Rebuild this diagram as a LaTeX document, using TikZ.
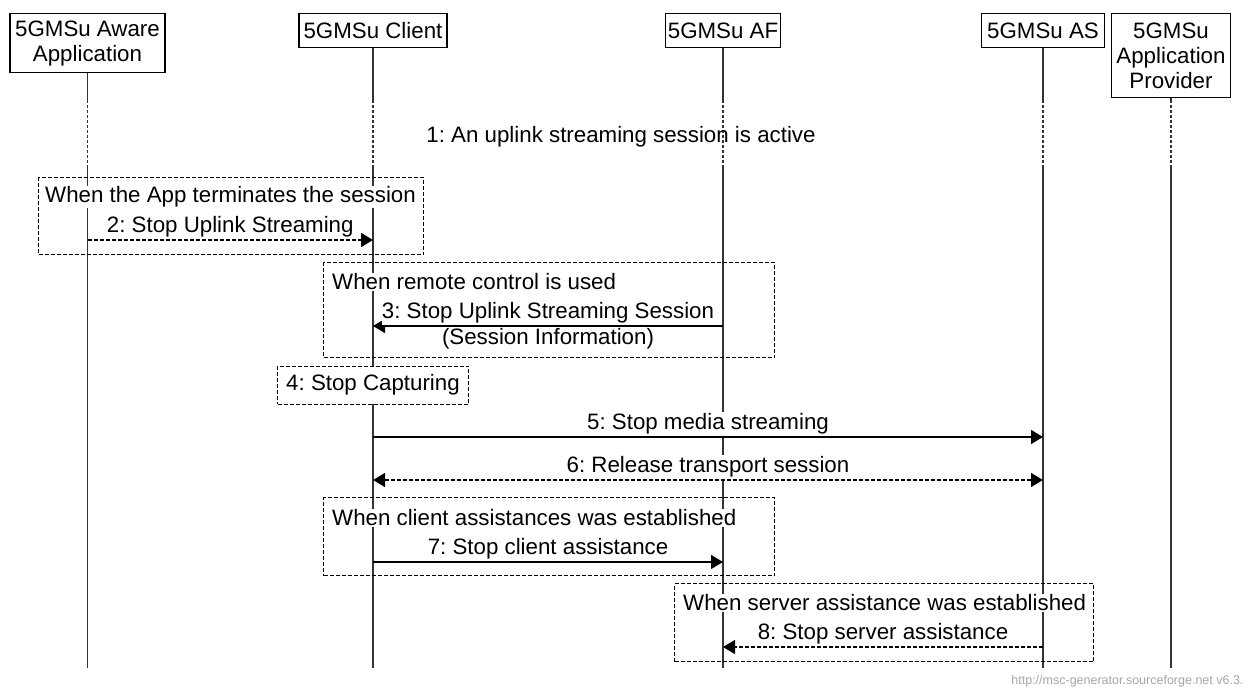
\documentclass[tikz,border=0pt]{standalone}
\usepackage{fontspec}
\setmainfont{Liberation Sans}
\usetikzlibrary{positioning, arrows.meta, calc}
\frenchspacing

\begin{document}
\begin{tikzpicture}[x=1pt, y=-1pt,
    font=\fontsize{22.3}{25}\selectfont,
    entity/.style={draw, rectangle, line width=1.2pt, align=center, anchor=north, inner sep=0pt, minimum height=34pt},
    life/.style={line width=1.2pt, black!80},
    gap/.style={life, dash pattern=on 3pt off 2pt},
    frame/.style={draw, rectangle, dash pattern=on 4pt off 2pt, line width=1pt, anchor=north west, inner sep=0pt},
    title/.style={anchor=west, fill=white, inner xsep=0pt, inner ysep=1pt},
    lbl/.style={fill=white, inner xsep=0pt, inner ysep=2pt},
    msg/.style={-{Triangle[length=12pt, width=14pt]}, line width=1.2pt},
    reply/.style={msg, dash pattern=on 4pt off 2pt},
    both/.style={{Triangle[length=12pt, width=14pt]}-{Triangle[length=12pt, width=14pt]}, line width=1.2pt, dash pattern=on 4pt off 2pt}
]
\useasboundingbox (0,0) rectangle (1248,688);

% Entities
\node[entity, minimum width=155pt, minimum height=59pt] (app) at (87.5,13) {5GMSu Aware\\Application};
\node[entity, minimum width=148pt] (client) at (373,13) {5GMSu Client};
\node[entity, minimum width=115pt] (af) at (723,13) {5GMSu AF};
\node[entity, minimum width=123pt] (as) at (1043,13) {5GMSu AS};
\node[entity, minimum width=119pt, minimum height=84pt] (prov) at (1171,13) {5GMSu\\Application\\Provider};

% Rows
\coordinate (dashTop) at (0,100);
\coordinate (dashBot) at (0,167);
\coordinate (lifeEnd) at (0,668);
\coordinate (m2) at (0,240);
\coordinate (m3) at (0,326);
\coordinate (m4) at (0,385);
\coordinate (m5) at (0,437);
\coordinate (m6) at (0,480);
\coordinate (m7) at (0,562);
\coordinate (m8) at (0,647);

% Lifelines
\foreach \e in {app, client, af, as, prov} {
  \draw[life] (\e.south) -- (\e |- dashTop);
  \draw[gap] (\e |- dashTop) -- (\e |- dashBot);
  \draw[life] (\e |- dashBot) -- (\e |- lifeEnd);
}

\node (active) at (621,137) {1: An uplink streaming session is active};

% Frames
\node[frame, minimum width=385pt, minimum height=77pt] (fApp) at (38,177) {};
\node[frame, minimum width=451pt, minimum height=95pt] (fRemote) at (323,262) {};
\node[frame, minimum width=451pt, minimum height=78pt] (fClient) at (323,497) {};
\node[frame, minimum width=419pt, minimum height=78pt] (fServer) at (674,583) {};
\node[frame, fill=white, anchor=center, minimum width=191pt, minimum height=38pt] (capture) at (client |- m4) {4: Stop Capturing};

\node[title] (tApp) at ($(fApp.north west)+(7,20)$) {When the App terminates the session};
\node[title] (tRemote) at ($(fRemote.north west)+(9,20)$) {When remote control is used};
\node[title] (tClient) at ($(fClient.north west)+(9,21)$) {When client assistances was established};
\node[title] (tServer) at ($(fServer.north west)+(9,20)$) {When server assistance was established};

% Messages
\draw[reply] (app |- m2) -- node[lbl, above] {2: Stop Uplink Streaming} (client |- m2);
\draw[msg] (af |- m3) -- node[lbl, above] {3: Stop Uplink Streaming Session} node[lbl, below] {(Session Information)} (client |- m3);
\draw[msg] (client |- m5) -- node[lbl, above] {5: Stop media streaming} (as |- m5);
\draw[both] (client |- m6) -- node[lbl, above] {6: Release transport session} (as |- m6);
\draw[msg] (client |- m7) -- node[lbl, above] {7: Stop client assistance} (af |- m7);
\draw[reply] (as |- m8) -- node[lbl, above] {8: Stop server assistance} (af |- m8);

\node[anchor=east, text=gray!70, font=\fontsize{12.5}{14}\selectfont] (url) at (1247,681) {http://msc-generator.sourceforge.net v6.3.};

\end{tikzpicture}
\end{document}
